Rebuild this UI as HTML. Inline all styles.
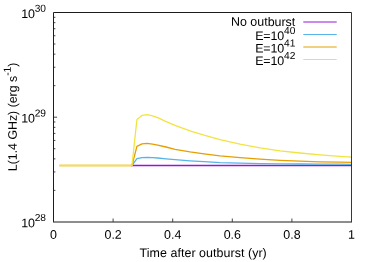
<!DOCTYPE html>
<html><head><meta charset="utf-8"><title>plot</title>
<style>
html,body{margin:0;padding:0;background:#fff;}
svg{display:block;will-change:transform;}
text{font-family:"Liberation Sans",sans-serif;fill:#000;text-rendering:geometricPrecision;}
</style></head><body>
<svg width="374" height="262" viewBox="0 0 374 262">
<defs><filter id="soft" x="0" y="0" width="374" height="262" filterUnits="userSpaceOnUse" color-interpolation-filters="sRGB"><feGaussianBlur stdDeviation="0.3"/></filter></defs>
<rect x="0" y="0" width="374" height="262" fill="#fff"/>
<path d="M53.50 190.38h1.9 M53.50 171.95h1.9 M53.50 158.86h1.9 M53.50 148.72h1.9 M53.50 140.43h1.9 M53.50 133.42h1.9 M53.50 127.35h1.9 M53.50 121.99h1.9 M53.50 117.20h3.6 M53.50 85.68h1.9 M53.50 67.25h1.9 M53.50 54.16h1.9 M53.50 44.02h1.9 M53.50 35.73h1.9 M53.50 28.72h1.9 M53.50 22.65h1.9 M53.50 17.29h1.9 M113.10 221.90v-3.4 M172.70 221.90v-3.4 M232.30 221.90v-3.4 M291.90 221.90v-3.4" stroke="#000" stroke-width="0.72" fill="none"/>
<g filter="url(#soft)">
<polyline points="131.00,165.50 351.50,165.50" fill="none" stroke="#9c12d7" stroke-width="1.3" stroke-linejoin="round"/>
<polyline points="132.00,165.50 136.90,158.70 142.00,157.60 147.25,157.30 152.50,157.60 157.70,158.00 166.00,158.90 175.00,159.70 190.00,160.80 204.00,161.70 220.00,162.60 240.00,163.20 260.00,163.60 280.00,163.90 300.00,164.00 320.00,164.10 340.00,164.20 351.50,164.30" fill="none" stroke="#56b4e9" stroke-width="1.3" stroke-linejoin="round"/>
<polyline points="59.50,165.50 132.00,165.50 136.90,146.30 142.00,143.80 147.25,143.40 152.50,144.20 157.70,145.20 166.00,147.00 175.00,149.30 190.00,151.90 204.00,153.90 220.00,155.90 240.00,157.70 260.00,159.20 280.00,160.40 300.00,161.20 320.00,161.80 340.00,162.10 351.50,162.30" fill="none" stroke="#e69f00" stroke-width="1.3" stroke-linejoin="round"/>
<polyline points="59.50,165.50 132.00,165.50 136.90,119.50 142.00,115.40 147.25,114.60 152.50,115.80 157.70,117.70 165.00,121.10 175.00,125.30 190.00,130.80 204.00,135.20 220.00,139.60 240.00,144.20 260.00,147.90 280.00,150.90 300.00,153.00 320.00,154.90 340.00,156.40 351.50,157.10" fill="none" stroke="#f0e442" stroke-width="1.3" stroke-linejoin="round"/>
</g>
<path d="M53.50 221.90V12.50H351.50" fill="none" stroke="#1c1c1c" stroke-width="1"/>
<path d="M351.50 12.50V221.90" fill="none" stroke="#1c1c1c" stroke-width="1" stroke-opacity="0.88"/>
<path d="M53.00 221.90H352.00" fill="none" stroke="#1c1c1c" stroke-width="1.05"/>
<line x1="303.3" x2="336.7" y1="22.0" y2="22.0" stroke="#9c12d7" stroke-width="1.15"/>
<line x1="303.3" x2="336.7" y1="34.5" y2="34.5" stroke="#56b4e9" stroke-width="1.15"/>
<line x1="303.3" x2="336.7" y1="47.0" y2="47.0" stroke="#e69f00" stroke-width="1.15"/>
<line x1="303.3" x2="336.7" y1="59.5" y2="59.5" stroke="#f0e442" stroke-width="1.15"/>
<g filter="url(#soft)">
<text transform="translate(295.30 25.90) rotate(0.05)" font-size="12.45" text-anchor="end">No outburst</text>
<text transform="translate(295.20 40.00) rotate(0.05)" font-size="12.45" letter-spacing="-0.12" text-anchor="end">E=10<tspan font-size="10.2" dy="-5.9">40</tspan></text>
<text transform="translate(295.20 52.50) rotate(0.05)" font-size="12.45" letter-spacing="-0.12" text-anchor="end">E=10<tspan font-size="10.2" dy="-5.9">41</tspan></text>
<text transform="translate(295.20 65.00) rotate(0.05)" font-size="12.45" letter-spacing="-0.12" text-anchor="end">E=10<tspan font-size="10.2" dy="-5.9">42</tspan></text>
<text transform="translate(45.90 227.30) rotate(0.05)" font-size="12.45" letter-spacing="-0.12" text-anchor="end">10<tspan font-size="10.2" dy="-6.2">28</tspan></text>
<text transform="translate(45.90 122.60) rotate(0.05)" font-size="12.45" letter-spacing="-0.12" text-anchor="end">10<tspan font-size="10.2" dy="-6.2">29</tspan></text>
<text transform="translate(45.90 17.90) rotate(0.05)" font-size="12.45" letter-spacing="-0.12" text-anchor="end">10<tspan font-size="10.2" dy="-6.2">30</tspan></text>
<text transform="translate(53.50 238.80) rotate(0.05)" font-size="12.45" text-anchor="middle">0</text>
<text transform="translate(113.10 238.80) rotate(0.05)" font-size="12.45" text-anchor="middle">0.2</text>
<text transform="translate(172.70 238.80) rotate(0.05)" font-size="12.45" text-anchor="middle">0.4</text>
<text transform="translate(232.30 238.80) rotate(0.05)" font-size="12.45" text-anchor="middle">0.6</text>
<text transform="translate(291.90 238.80) rotate(0.05)" font-size="12.45" text-anchor="middle">0.8</text>
<text transform="translate(351.50 238.80) rotate(0.05)" font-size="12.45" text-anchor="middle">1</text>
<text transform="translate(203.20 257.00) rotate(0.05)" font-size="12.45" letter-spacing="0.05" text-anchor="middle">Time after outburst (yr)</text>
<text transform="translate(16.80 116.90) rotate(-90.05)" font-size="12.35" text-anchor="middle">L(1.4 GHz) (erg s<tspan font-size="10.2" dy="-6">-1</tspan><tspan dy="6">)</tspan></text>
</g>
</svg>
</body></html>
